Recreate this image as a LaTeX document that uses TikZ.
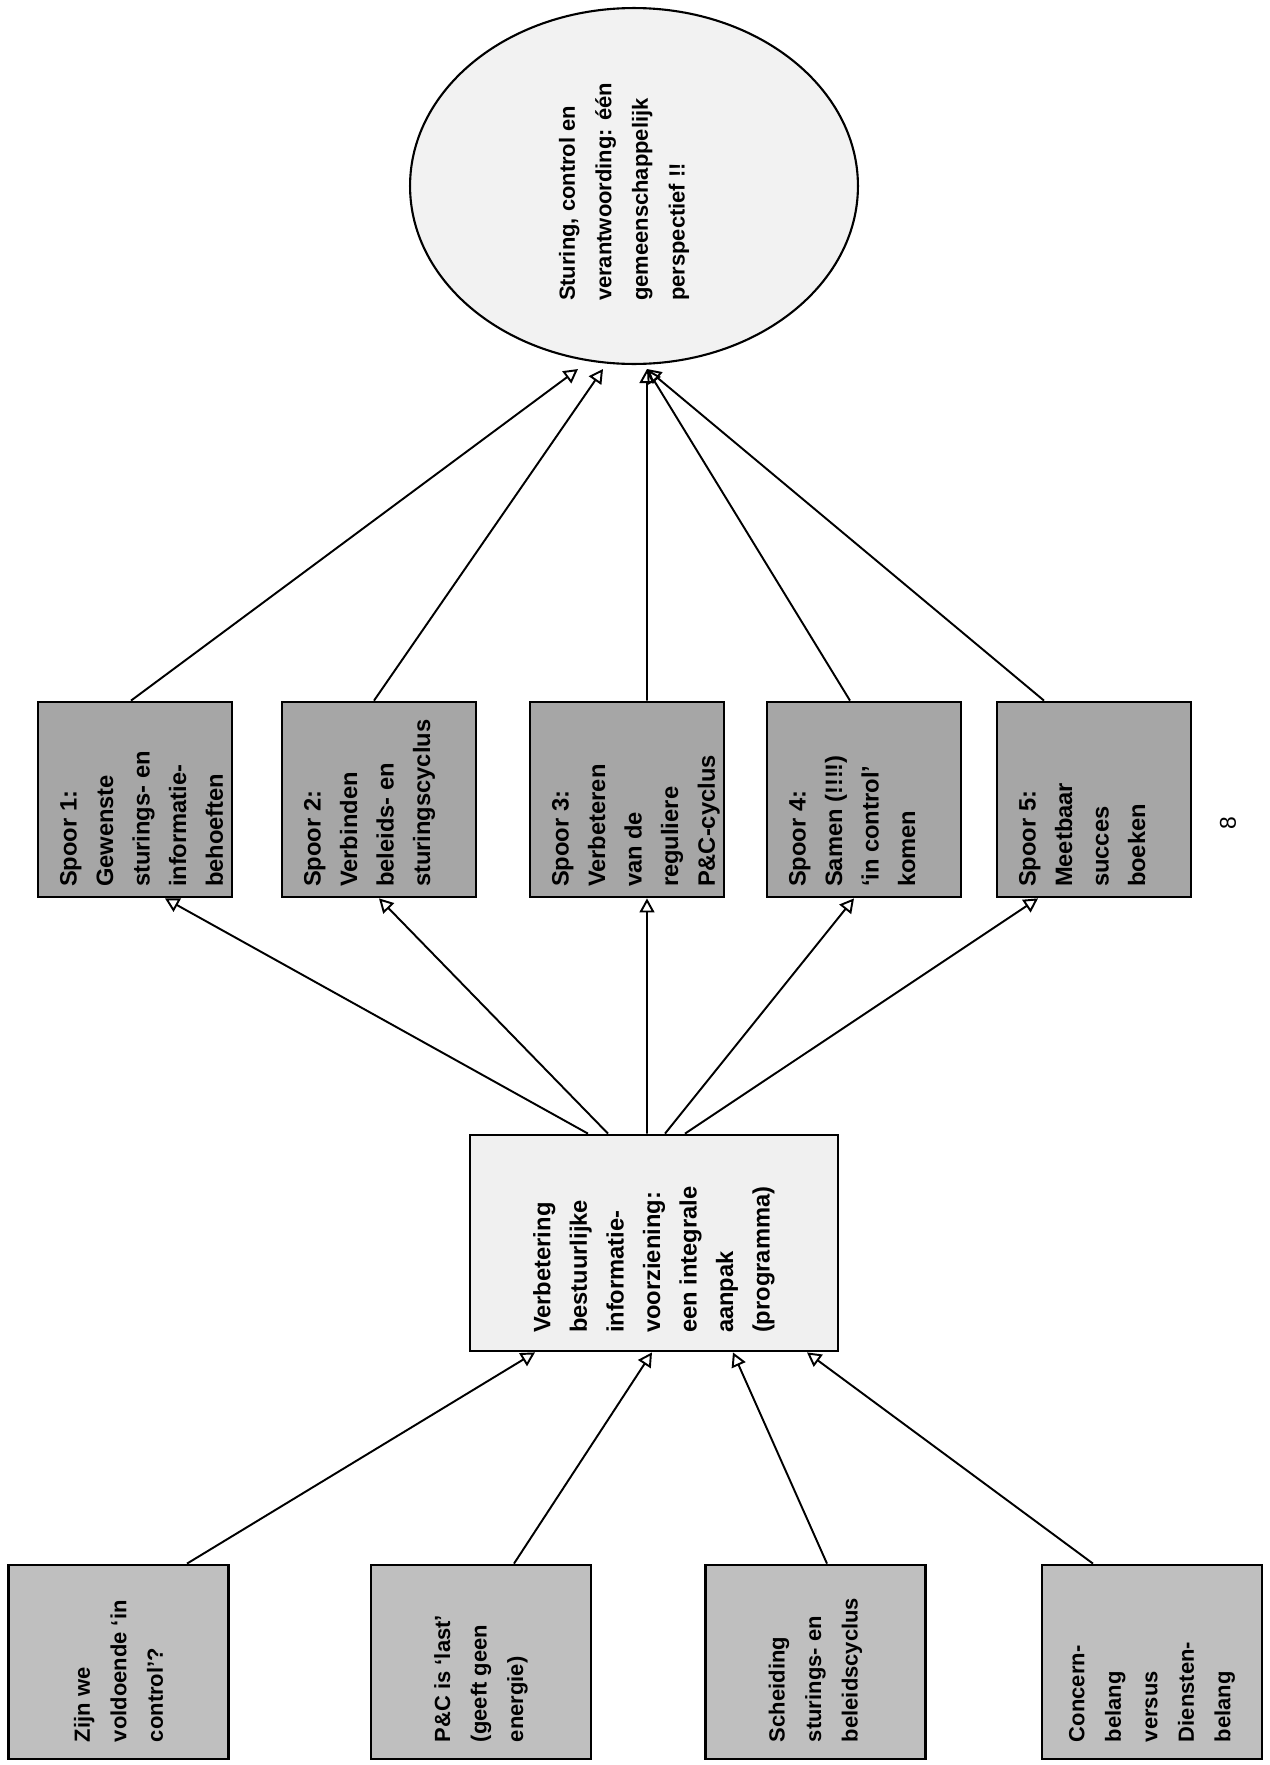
\documentclass[tikz,border=0pt]{standalone}
\usepackage{fontspec}
\setmainfont{Liberation Sans}
\usepackage{graphicx}
\usetikzlibrary{arrows.meta, shapes.geometric}

% text running upwards, lines start at the bottom
\newcommand{\uptext}[2]{\rotatebox{90}{\parbox{#1}{\raggedright #2}}}
\newcommand{\uptextleft}[3]{\rotatebox{90}{\parbox[c][#2][t]{#1}{\raggedright #3}}}

\tikzset{
  flow/.style={-{Triangle[open,length=8pt,width=8.5pt]}, line width=1.1pt},
  lbl/.style={font=\bfseries\fontsize{12.5}{20.8}\selectfont},
  lblbig/.style={font=\bfseries\fontsize{13.5}{20.8}\selectfont},
  cause/.style={draw, line width=1.6pt, fill=black!25, minimum width=4.4cm, minimum height=3.88cm, inner sep=0pt, lbl},
  spoorbox/.style={draw, line width=1.6pt, fill=black!35, minimum width=3.88cm, minimum height=3.9cm, inner sep=0pt, lblbig},
  progbox/.style={draw, line width=1.6pt, fill=black!6, minimum width=7.36cm, minimum height=4.32cm, inner sep=0pt, lblbig},
  aim/.style={ellipse, draw, line width=1.2pt, fill=black!5, minimum width=8.96cm, minimum height=7.12cm, inner sep=0pt, lbl}
}

\begin{document}
\begin{tikzpicture}[x=0.02cm, y=-0.02cm]
  \useasboundingbox (0,0) rectangle (1270,1765);

  % common perspective
  \node[aim] (persp) at (634,186) {\uptext{4.6cm}{Sturing, control en\\ verantwoording: één\\ gemeenschappelijk\\ perspectief !!\par\vspace{0.4cm}}};

  % the five tracks
  \node[spoorbox] (s1) at (135,799.5) {\uptextleft{3.5cm}{3.0cm}{Spoor 1:\\ Gewenste\\ sturings- en\\ informatie-\\ behoeften}};
  \node[spoorbox] (s2) at (379,799.5) {\uptextleft{3.5cm}{3.0cm}{Spoor 2:\\ Verbinden\\ beleids- en\\ sturingscyclus}};
  \node[spoorbox] (s3) at (627,799.5) {\uptextleft{3.5cm}{3.0cm}{Spoor 3:\\ Verbeteren\\ van de\\ reguliere\\ P\&C-cyclus}};
  \node[spoorbox] (s4) at (864,799.5) {\uptextleft{3.5cm}{3.0cm}{Spoor 4:\\ Samen (!!!!)\\ `in control'\\ komen}};
  \node[spoorbox] (s5) at (1094,799.5) {\uptextleft{3.5cm}{3.0cm}{Spoor 5:\\ Meetbaar\\ succes\\ boeken}};

  % programme
  \node[progbox] (prog) at (654,1243) {\uptext{3.6cm}{Verbetering\\ bestuurlijke\\ informatie-\\ voorziening:\\ een integrale\\ aanpak\\ (programma)}};

  % causes
  \node[cause] (c1) at (118.5,1662) {\uptext{3.2cm}{Zijn we\\ voldoende `in\\ control'?}};
  \node[cause] (c2) at (481,1662) {\uptext{3.2cm}{P\&C is `last'\\ (geeft geen\\ energie)}};
  \node[cause] (c3) at (815.5,1662) {\uptext{3.2cm}{Scheiding\\ sturings- en\\ beleidscyclus}};
  \node[cause] (c4) at (1152,1662) {\uptext{3.2cm}{Concern-\\ belang\\ versus\\ Diensten-\\ belang}};

  \node[rotate=90, font=\fontsize{13}{15}\selectfont] (pagenr) at (1228,823) {8};

  % causes to programme
  \draw[flow] ([xshift=1.37cm]c1.north) -- ([xshift=-2.38cm]prog.south);
  \draw[flow] ([xshift=0.66cm]c2.north) -- ([xshift=-0.04cm]prog.south);
  \draw[flow] ([xshift=0.23cm]c3.north) -- ([xshift=1.58cm]prog.south);
  \draw[flow] ([xshift=-1.18cm]c4.north) -- ([xshift=3.06cm]prog.south);

  % programme to tracks
  \draw[flow] ([xshift=-1.32cm]prog.north) -- ([xshift=0.6cm]s1.south);
  \draw[flow] ([xshift=-0.92cm]prog.north) -- (s2.south);
  \draw[flow] ([xshift=-0.14cm]prog.north) -- ([xshift=0.4cm]s3.south);
  \draw[flow] ([xshift=0.22cm]prog.north) -- ([xshift=-0.2cm]s4.south);
  \draw[flow] ([xshift=0.62cm]prog.north) -- ([xshift=-1.12cm]s5.south);

  % tracks to perspective
  \draw[flow] ([xshift=-0.08cm]s1.north) -- ([xshift=-1.12cm,yshift=-0.08cm]persp.south);
  \draw[flow] ([xshift=-0.1cm]s2.north) -- ([xshift=-0.62cm,yshift=-0.08cm]persp.south);
  \draw[flow] ([xshift=0.4cm]s3.north) -- ([xshift=0.26cm,yshift=-0.08cm]persp.south);
  \draw[flow] ([xshift=-0.28cm]s4.north) -- ([xshift=0.26cm,yshift=-0.08cm]persp.south);
  \draw[flow] ([xshift=-1.0cm]s5.north) -- ([xshift=0.26cm,yshift=-0.08cm]persp.south);
\end{tikzpicture}
\end{document}
